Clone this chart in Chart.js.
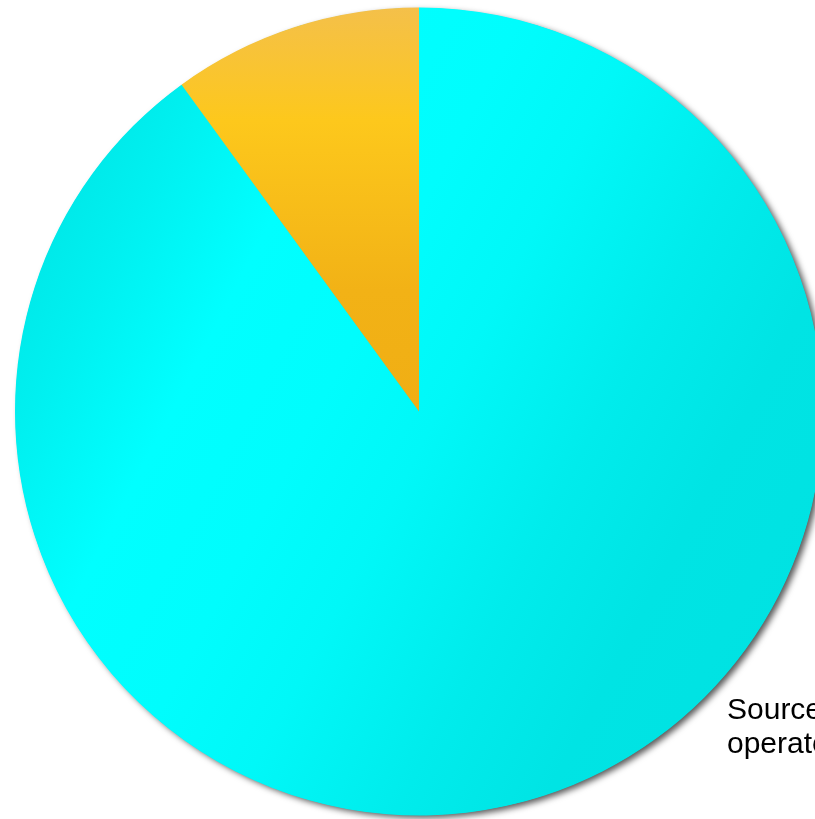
<!DOCTYPE html>
<html>
<head>
<meta charset="utf-8">
<script src="https://cdn.jsdelivr.net/npm/chart.js@4"></script>
<style>
  html, body { margin: 0; padding: 0; overflow: hidden; background: #fff; }
  #piechart { display: block; }
</style>
</head>
<body>
<canvas id="piechart" width="840" height="819"></canvas>
<script>
const categories = ["Others", "Share"];
const shares = [90, 10];
const sourceLines = ["Source:", "operators"];

const pctx = document.getElementById("piechart");

function cyanFill(chart) {
  const a = chart.chartArea;
  const g = chart.ctx.createLinearGradient(a.left, a.top + 192, a.right, a.top + 612);
  g.addColorStop(0, "#00e4e4");
  g.addColorStop(0.12, "#00f0f0");
  g.addColorStop(0.26, "#00ffff");
  g.addColorStop(0.4, "#00fdfd");
  g.addColorStop(0.52, "#00f8f8");
  g.addColorStop(0.68, "#00ecec");
  g.addColorStop(0.82, "#00e4e4");
  g.addColorStop(1, "#00e2e2");
  return g;
}

function orangeFill(chart) {
  const a = chart.chartArea;
  const g = chart.ctx.createLinearGradient(0, a.top, 0, (a.top + a.bottom) / 2);
  g.addColorStop(0, "#f4c04a");
  g.addColorStop(0.28, "#fdc81c");
  g.addColorStop(0.7, "#f2b216");
  g.addColorStop(1, "#f0ae14");
  return g;
}

// one shadow under the whole pie
const pieShadow = {
  id: "pieShadow",
  beforeDatasetsDraw(chart) {
    const arc = chart.getDatasetMeta(0).data[0];
    if (!arc) return;
    const ctx = chart.ctx;
    ctx.save();
    ctx.shadowColor = "rgba(0,0,0,0.65)";
    ctx.shadowBlur = 6;
    ctx.shadowOffsetX = 4;
    ctx.shadowOffsetY = 3;
    ctx.fillStyle = "#00e8e8";
    ctx.beginPath();
    ctx.arc(arc.x, arc.y, arc.outerRadius - 0.5, 0, Math.PI * 2);
    ctx.fill();
    ctx.restore();
  },
};

const sourceNote = {
  id: "sourceNote",
  afterDraw(chart) {
    const ctx = chart.ctx;
    ctx.save();
    ctx.fillStyle = "#000";
    ctx.font = "30px 'Liberation Sans', Arial, sans-serif";
    ctx.textBaseline = "alphabetic";
    ctx.fillText(sourceLines[0], 727, 719);
    ctx.fillText(sourceLines[1], 727, 753);
    ctx.restore();
  },
};

new Chart(pctx, {
  type: "pie",
  data: {
    labels: categories,
    datasets: [
      {
        data: shares,
        borderWidth: 0,
        hoverOffset: 0,
        backgroundColor: (c) => {
          if (!c.chart.chartArea) return c.dataIndex === 0 ? "#00f0f0" : "#f8bc1c";
          return c.dataIndex === 0 ? cyanFill(c.chart) : orangeFill(c.chart);
        },
      },
    ],
  },
  options: {
    responsive: false,
    animation: false,
    devicePixelRatio: 1,
    layout: {
      padding: { left: 15, top: 7.5, right: 17, bottom: 3.5 },
    },
    plugins: {
      legend: { display: false },
      tooltip: { enabled: false },
    },
  },
  plugins: [pieShadow, sourceNote],
});
</script>
</body>
</html>
